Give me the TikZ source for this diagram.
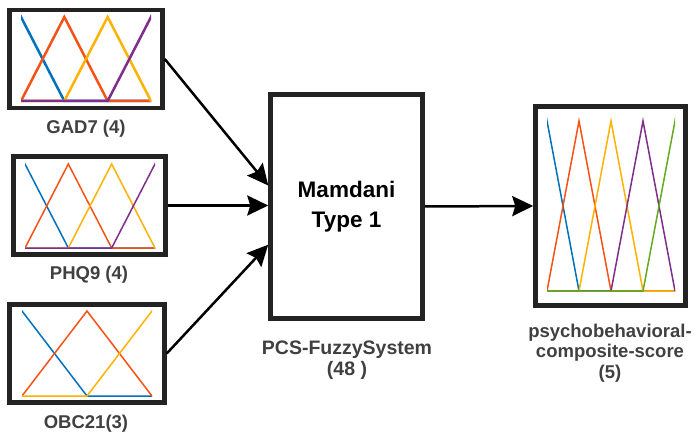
\documentclass[tikz,border=0pt]{standalone}
\usepackage{fontspec}
\setmainfont{Liberation Sans}
\usepackage{tikz}
\usetikzlibrary{arrows.meta,positioning,calc}
\definecolor{mfblue}{RGB}{0,114,189}
\definecolor{mforange}{RGB}{245,82,22}
\definecolor{mfyellow}{RGB}{255,178,0}
\definecolor{mfpurple}{RGB}{126,47,142}
\definecolor{mfgreen}{RGB}{100,172,30}
\definecolor{boxline}{RGB}{35,35,35}
\definecolor{lblgray}{RGB}{64,64,64}

\begin{document}
\begin{tikzpicture}[
    x=1pt, y=-1pt,
    blk/.style={draw=boxline, line width=4.5pt, fill=white, inner sep=0pt},
    lbl/.style={font=\fontsize{18.5}{20.5}\selectfont\bfseries, text=lblgray, align=center},
    mf/.style={line width=1.5pt},
    arr/.style={-{Stealth[length=21pt,width=20pt,inset=3pt]}, line width=2.5pt}
]
\useasboundingbox (0,0) rectangle (700,438);
% Input GAD7
\node[blk, minimum width=153pt, minimum height=98pt] (gad) at (86,59) {};
\begin{scope}
\clip (21,12) rectangle (151,105);
\foreach \c [count=\i from 0] in {mfblue,mforange,mfyellow,mfpurple} {
    \draw[mf,line width=2.5pt,\c] (21,101) -- ({21+(\i-1)*43.33},101) -- ({21+\i*43.33},17) -- ({21+(\i+1)*43.33},101) -- (151,101);
}
\end{scope}
\node[lbl] (gadlbl) at (86,129) {GAD7 (4)};
% Input PHQ9
\node[blk, minimum width=152pt, minimum height=98pt] (phq) at (89.5,205.5) {};
\begin{scope}
\clip (25,160) rectangle (155,251);
\foreach \c [count=\i from 0] in {mfblue,mforange,mfyellow,mfpurple} {
    \draw[mf,\c] (25,248) -- ({25+(\i-1)*43.33},248) -- ({25+\i*43.33},164) -- ({25+(\i+1)*43.33},248) -- (155,248);
}
\end{scope}
\node[lbl] (phqlbl) at (89,275) {PHQ9 (4)};
% Input OBC21
\node[blk, minimum width=155pt, minimum height=98pt] (obc) at (87,353.5) {};
\begin{scope}
\clip (22,307) rectangle (152,399);
\foreach \c [count=\i from 0] in {mfblue,mforange,mfyellow} {
    \draw[mf,\c] (22,396) -- ({22+(\i-1)*65},396) -- ({22+\i*65},311) -- ({22+(\i+1)*65},396) -- (152,396);
}
\end{scope}
\node[lbl] (obclbl) at (86,424) {OBC21(3)};
% Fuzzy system
\node[blk, minimum width=152pt, minimum height=224pt,
      font=\fontsize{22.5}{30}\selectfont\bfseries, align=center] (fis) at (346.5,206.5) {Mamdani\\Type 1};
\node[lbl, font=\fontsize{19.5}{21}\selectfont\bfseries] (fislbl) at (347,360) {PCS-FuzzySystem\\(48 )};
% Output
\node[blk, minimum width=150pt, minimum height=199pt] (out) at (610.5,206) {};
\begin{scope}
\clip (547,117) rectangle (675,294);
\foreach \c [count=\i from 0] in {mfblue,mforange,mfyellow,mfpurple,mfgreen} {
    \draw[mf,\c] (547,291) -- ({547+(\i-1)*32},291) -- ({547+\i*32},121) -- ({547+(\i+1)*32},291) -- (675,291);
}
\end{scope}
\node[lbl] (outlbl) at (610,353) {psychobehavioral-\\composite-score\\(5)};
% Connectors
\draw[arr] (gad.east) -- (fis.165);
\draw[arr] (phq.east) -- (phq.east -| fis.west);
\draw[arr] (obc.east) -- (fis.206);
\draw[arr] (fis.east) -- (out.west);
\end{tikzpicture}
\end{document}
